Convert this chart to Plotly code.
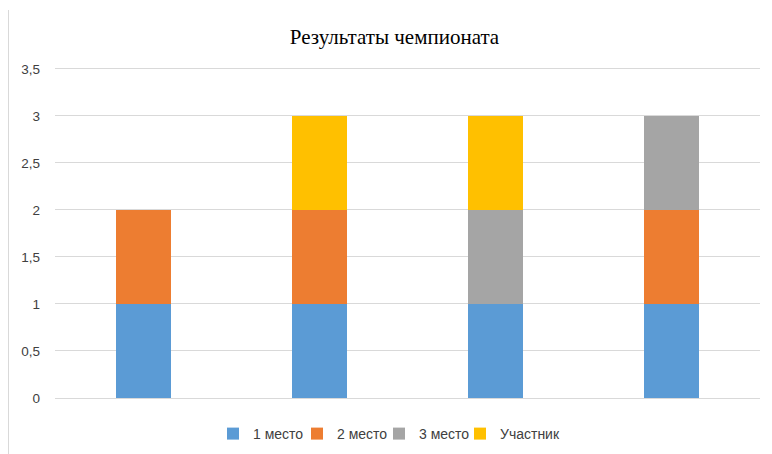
import plotly.graph_objects as go

categories = ["1", "2", "3", "4"]
series_names = ["1 место", "2 место", "3 место", "Участник"]
first_place = [1, 1, 1, 1]
second_place = [1, 1, 0, 1]
third_place = [0, 0, 1, 1]
participant = [0, 1, 1, 0]
colors = ["#5B9BD5", "#ED7D31", "#A5A5A5", "#FFC000"]
y_ticks = [0, 0.5, 1, 1.5, 2, 2.5, 3, 3.5]

legend_ids = ["legend", "legend2", "legend3", "legend4"]

fig = go.Figure()
for name, vals, col, lg in zip(series_names, [first_place, second_place, third_place, participant], colors, legend_ids):
    fig.add_trace(go.Bar(x=categories, y=vals, name=name, legend=lg, showlegend=True,
                         marker=dict(color=col, line=dict(width=0))))

# page has an 8px body margin, so the figure is sized/positioned accordingly
W, H = 764, 446
ml, mr, mt, mb = 47, 12, 59, 56
pw = W - ml - mr
ph = H - mt - mb

legend_starts = [205, 289, 371, 452]  # left edges of legend entries (px, figure coords)
legend_layouts = {}
for lg, x0 in zip(legend_ids, legend_starts):
    legend_layouts[lg] = dict(orientation="h", x=x0 / W, xref="container", xanchor="left",
                              y=1 - 426 / H, yref="container", yanchor="middle",
                              font=dict(size=14, color="#404040"), itemwidth=30,
                              bgcolor="rgba(0,0,0,0)")

fig.update_layout(
    width=W, height=H,
    showlegend=True,
    barmode="stack",
    bargap=0.688,
    separators=", ",
    paper_bgcolor="white",
    plot_bgcolor="white",
    margin=dict(l=ml, r=mr, t=mt, b=mb, autoexpand=False),
    font=dict(family="Liberation Sans, sans-serif", size=13, color="#404040"),
    title=dict(text="Результаты чемпионата", x=386.5 / W, xanchor="center", y=1 - 28.5 / H, yanchor="middle",
               font=dict(family="Liberation Serif, serif", size=21, color="#000000")),
    xaxis=dict(showticklabels=False, showgrid=False, zeroline=False, showline=False, ticks=""),
    yaxis=dict(range=[0, 3.52], tickvals=y_ticks, showgrid=True, gridcolor="#D9D9D9", gridwidth=1,
               zeroline=True, zerolinecolor="#D9D9D9", zerolinewidth=1, showline=False, ticks="",
               ticklabelstandoff=14, tickfont=dict(family="Liberation Sans, sans-serif", size=13.5, color="#404040")),
    shapes=[dict(type="line", xref="paper", yref="paper",
                 x0=(0.5 - ml) / pw, x1=(0.5 - ml) / pw,
                 y0=(mt + ph - H) / ph, y1=(mt + ph - 2) / ph,
                 line=dict(color="#D9D9D9", width=1))],
    **legend_layouts,
)

fig.write_html("out.html")
